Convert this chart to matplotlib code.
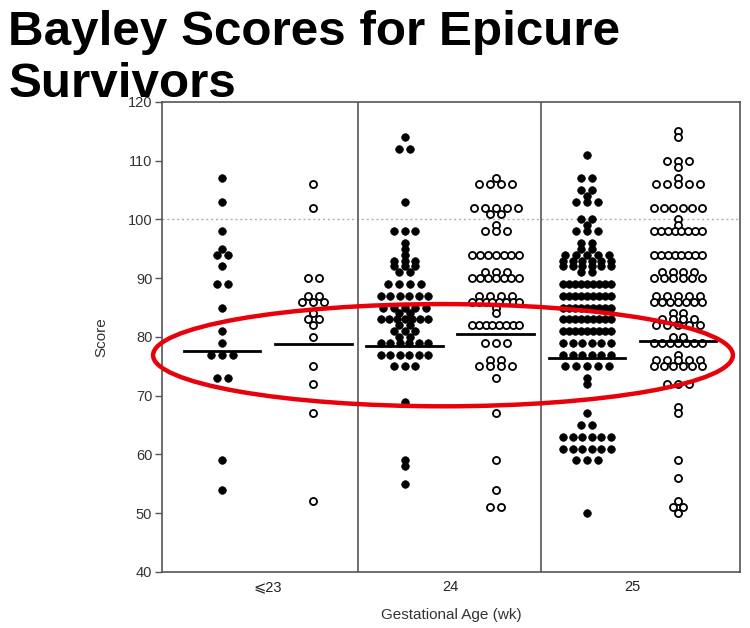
import numpy as np
import matplotlib.pyplot as plt
from matplotlib.patches import Ellipse

plt.rcParams['font.family'] = ['Liberation Sans', 'DejaVu Sans']

ages = ["⩽23", "24", "25"]

# filled dots: score and number of children at that score
solid_23 = [107, 103, 98, 95, 94, 92, 89, 85, 81, 79, 77, 73, 59, 54]
solid_23_n = [1, 1, 1, 1, 2, 1, 2, 1, 1, 1, 3, 2, 1, 1]
solid_24 = [114, 112, 103, 98, 96, 95, 94, 93, 92, 91, 89, 87, 85, 84, 83, 82, 81, 80,
            79, 77, 75, 69, 59, 58, 55]
solid_24_n = [1, 2, 1, 3, 1, 1, 1, 3, 3, 2, 4, 6, 5, 2, 7, 2, 3, 2, 6, 6, 3, 1, 1, 1, 1]
solid_25 = [111, 107, 105, 104, 103, 100, 99, 98, 96, 95, 94, 93, 92, 91, 89, 87, 85, 83,
            81, 79, 77, 75, 73, 72, 67, 65, 63, 61, 59, 50]
solid_25_n = [1, 2, 2, 1, 3, 2, 1, 3, 2, 2, 5, 6, 6, 2, 9, 9, 9, 9, 9, 6, 6, 5, 1, 1, 1,
              2, 6, 6, 3, 1]

# open dots
hollow_23 = [106, 102, 90, 87, 86, 84, 83, 82, 80, 75, 72, 67, 52]
hollow_23_n = [1, 1, 2, 2, 3, 1, 2, 1, 1, 1, 1, 1, 1]
hollow_24 = [107, 106, 102, 101, 99, 98, 94, 91, 90, 87, 86, 85, 84, 82, 79, 76, 75, 73,
             67, 59, 54, 51]
hollow_24_n = [1, 4, 5, 2, 1, 3, 7, 3, 7, 4, 8, 1, 1, 8, 3, 2, 4, 1, 1, 1, 1, 2]
hollow_25 = [115, 114, 110, 109, 107, 106, 102, 100, 99, 98, 94, 91, 90, 87, 86, 84, 83,
             82, 80, 79, 77, 76, 75, 72, 68, 67, 59, 56, 52, 51, 50]
hollow_25_n = [1, 1, 3, 1, 1, 5, 6, 1, 1, 8, 8, 4, 6, 5, 7, 2, 4, 5, 2, 7, 1, 5, 6, 3, 1,
               1, 1, 1, 1, 2, 1]

median_solid = [77.6, 78.5, 76.4]
median_hollow = [78.8, 80.5, 79.3]

STEP = 0.060      # gap between dots sharing a score
MAXW = 0.13       # half width a row may take
SHIFT = 0.25      # filled left / open right of the group centre
HALF = 0.21       # half length of median bar


def dot_rows(vals, counts, centre):
    xs, ys = [], []
    for v, n in zip(vals, counts):
        step = STEP if n < 2 else min(STEP, 2 * MAXW / (n - 1))
        off = (np.arange(n) - (n - 1) / 2) * step
        xs.extend(centre + off)
        ys.extend([v] * n)
    return xs, ys


fig = plt.figure(figsize=(7.5, 6.28), dpi=100)
ax = fig.add_axes([0.216, 0.0892, 0.7707, 0.7484])

solids = [(solid_23, solid_23_n), (solid_24, solid_24_n), (solid_25, solid_25_n)]
hollows = [(hollow_23, hollow_23_n), (hollow_24, hollow_24_n), (hollow_25, hollow_25_n)]

ax.axhline(100, color='#b0b0b0', ls=(0, (1.5, 2)), lw=1, zorder=1)

for i in range(3):
    x, y = dot_rows(*solids[i], i - SHIFT)
    ax.scatter(x, y, s=30, color='black', edgecolors='black', linewidths=0.5, zorder=3)
    x, y = dot_rows(*hollows[i], i + SHIFT)
    ax.scatter(x, y, s=26, facecolors='white', edgecolors='black', linewidths=1.3, zorder=3)
    ax.plot([i - SHIFT - HALF, i - SHIFT + HALF], [median_solid[i]] * 2, color='black', lw=2, zorder=4)
    ax.plot([i + SHIFT - HALF, i + SHIFT + HALF], [median_hollow[i]] * 2, color='black', lw=2, zorder=4)

for xd in [0.495, 1.5]:
    ax.axvline(xd, color='#555555', lw=1.2, zorder=2)

ax.set_xlim(-0.58, 2.59)
ax.set_ylim(40, 120)
ax.set_yticks(range(40, 121, 10))
ax.set_xticks(range(3))
ax.set_xticklabels(ages)
ax.tick_params(axis='y', length=5, width=1, color='#555555', labelcolor='#333333',
               labelsize=10.5, pad=2)
ax.tick_params(axis='x', length=0, labelcolor='#222222', labelsize=10.5, pad=6)
for sp in ax.spines.values():
    sp.set_color('#555555')
    sp.set_linewidth(1.2)
ax.set_ylabel("Score", fontsize=11, color='#333333', labelpad=14)
ax.set_xlabel("Gestational Age (wk)", fontsize=11, color='#333333', labelpad=10)

# red highlight ring round the medians
ring = Ellipse((0.961, 76.9), 3.18, 17.4, fill=False, edgecolor='#e8000b', lw=3.2,
               clip_on=False, zorder=5)
ax.add_patch(ring)

fig.text(0.011, 0.928, "Bayley Scores for Epicure", fontsize=35.6, fontweight='bold',
         va='baseline', ha='left', zorder=10)
fig.text(0.011, 0.8455, "Survivors", fontsize=35.6, fontweight='bold',
         va='baseline', ha='left', zorder=10)

fig.savefig("out.png", dpi=100)
